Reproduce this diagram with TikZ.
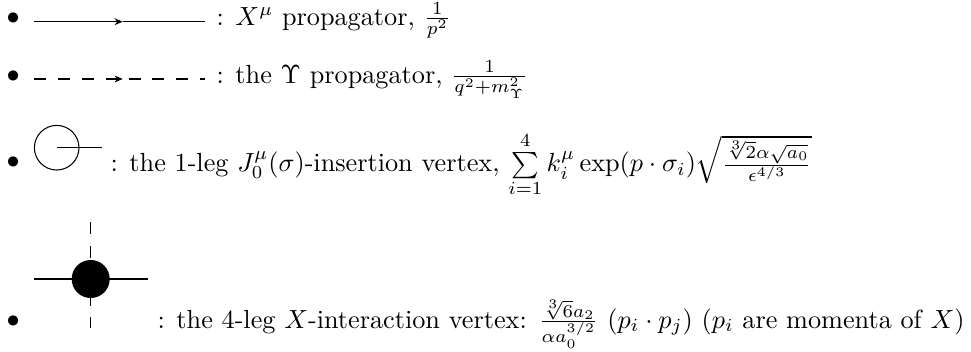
\documentclass[tikz,border=0pt]{standalone}
\usepackage{amsmath}
\usepackage{tikz}
\usetikzlibrary{arrows.meta,positioning}
\tikzset{
  itemdot/.style={inner sep=0pt},
  lbl/.style={inner sep=0pt,anchor=base west},
  xprop/.style={draw=black,line width=0.4pt},
  yprop/.style={xprop,dash pattern=on 4.55pt off 4.55pt},
  midtip/.style={-{Stealth[length=3.1pt,width=2.6pt]}},
  jvert/.style={circle,draw=black,line width=0.4pt,inner sep=0pt,minimum size=17pt},
  xvert/.style={circle,fill=black,inner sep=0pt,minimum size=14.5pt},
}

\begin{document}
\begin{tikzpicture}[x=0.3812pt,y=-0.3812pt]
  \useasboundingbox (0,0) rectangle (971,352);
  % bullets
  \node[itemdot] (b1) at (13.3,19) {$\bullet$};
  \node[itemdot] (b2) at (13.3,76.7) {$\bullet$};
  \node[itemdot] (b3) at (13.3,163) {$\bullet$};
  \node[itemdot] (b4) at (13.3,322) {$\bullet$};
  % X propagator
  \coordinate (x1) at (34,21.7); \coordinate (xm) at (122.7,21.7); \coordinate (x2) at (205,21.7);
  \draw[xprop,midtip] (x1) -- (xm); \draw[xprop] (xm) -- (x2);
  \node[lbl] (t1) at (216,25) {: $X^\mu$ propagator, $\frac{1}{p^2}$};
  % Upsilon propagator
  \coordinate (y1) at (34,79); \coordinate (ym) at (122.7,79); \coordinate (y2) at (205,79);
  \draw[yprop,midtip] (y1) -- (ym); \draw[yprop,dash phase=6.85pt] (ym) -- (y2);
  \node[lbl] (t2) at (216,83) {: the $\Upsilon$ propagator, $\frac{1}{q^2+m_\Upsilon^2}$};
  % 1-leg insertion vertex
  \node[jvert] (j) at (56.7,147.7) {};
  \coordinate (jleg) at (101.7,147.7);
  \draw[xprop] (j.center) -- (jleg);
  \node[lbl] (t3) at (110,171.7) {: the 1-leg $J_0^\mu(\sigma)$-insertion vertex, $\sum\limits_{i=1}^{4} k_i^\mu \exp(p\cdot\sigma_i)\sqrt{\frac{\sqrt[3]{2}\alpha\sqrt{a_0}}{\epsilon^{4/3}}}$};
  % 4-leg interaction vertex
  \coordinate (vl) at (34,279); \coordinate (vr) at (148,279);
  \coordinate (vt) at (90.7,222); \coordinate (vb) at (90.7,328);
  \draw[xprop] (vl) -- (vr);
  \draw[yprop] (vt) -- (vb);
  \node[xvert] (v) at (90.7,279) {};
  \node[lbl] (t4) at (157,328) {: the 4-leg $X$-interaction vertex: $\frac{\sqrt[3]{6}a_2}{\alpha a_0^{3/2}}$ $(p_i\cdot p_j)$ ($p_i$ are momenta of $X$)};
\end{tikzpicture}
\end{document}
